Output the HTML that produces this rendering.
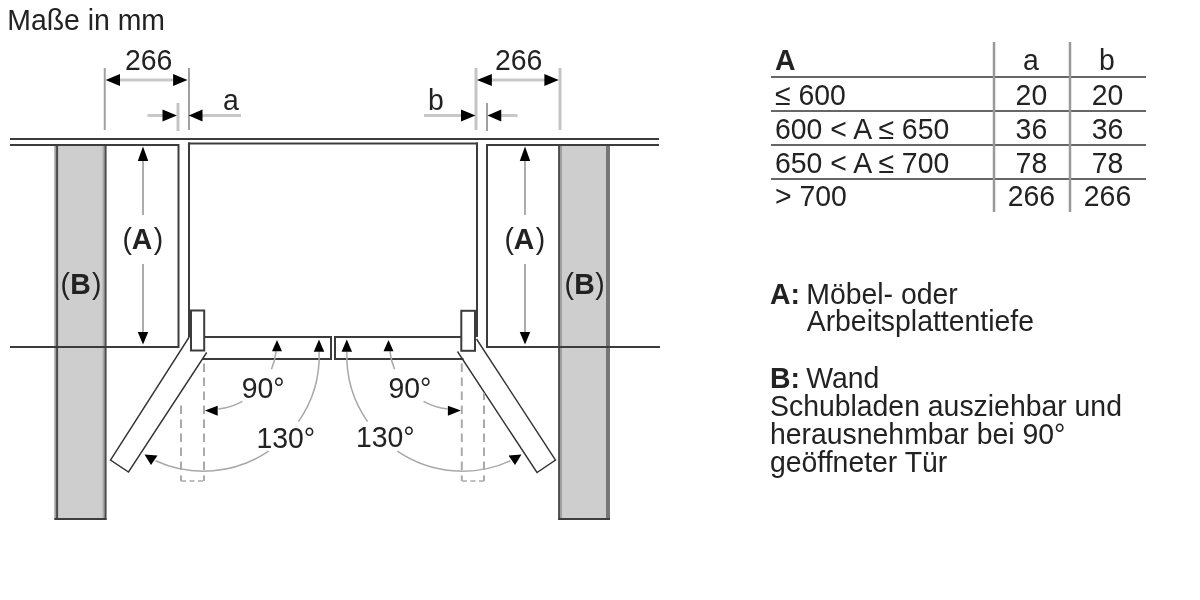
<!DOCTYPE html>
<html><head><meta charset="utf-8"><style>
html,body{margin:0;padding:0;background:#fff;width:1200px;height:600px;overflow:hidden}
svg{display:block;will-change:transform;filter:blur(0.4px)}
text{font-family:"Liberation Sans",sans-serif;font-size:28.4px;fill:#222}
</style></head><body>
<svg width="1200" height="600" viewBox="0 0 1200 600">
<line x1="10" y1="139" x2="659" y2="139" stroke="#3c3c3c" stroke-width="2" />
<line x1="10" y1="145" x2="179" y2="145" stroke="#3c3c3c" stroke-width="2" />
<line x1="487" y1="145" x2="659" y2="145" stroke="#3c3c3c" stroke-width="2" />
<line x1="10" y1="347" x2="179" y2="347" stroke="#3c3c3c" stroke-width="2" />
<line x1="487" y1="347" x2="660" y2="347" stroke="#3c3c3c" stroke-width="2" />
<line x1="178.5" y1="144" x2="178.5" y2="348" stroke="#3c3c3c" stroke-width="2" />
<line x1="487" y1="144" x2="487" y2="348" stroke="#3c3c3c" stroke-width="2" />
<rect x="54.4" y="145" width="52.1" height="375" fill="#cecece"/>
<line x1="55.3" y1="145" x2="55.3" y2="520" stroke="#a0a0a0" stroke-width="1.8" />
<line x1="57.1" y1="145" x2="57.1" y2="520" stroke="#4a4a4a" stroke-width="2" />
<line x1="103.5" y1="145" x2="103.5" y2="518" stroke="#a8a8a8" stroke-width="1.8" />
<line x1="105.5" y1="145" x2="105.5" y2="520" stroke="#4a4a4a" stroke-width="2" />
<line x1="54.4" y1="519" x2="106.5" y2="519" stroke="#3e3e3e" stroke-width="2" />
<rect x="558.2" y="145" width="51.8" height="375" fill="#cecece"/>
<line x1="559.1" y1="145" x2="559.1" y2="520" stroke="#4e4e4e" stroke-width="2" />
<line x1="561" y1="145" x2="561" y2="518" stroke="#a0a0a0" stroke-width="2" />
<line x1="608" y1="145" x2="608" y2="520" stroke="#777777" stroke-width="4" />
<line x1="558.2" y1="519" x2="610" y2="519" stroke="#3e3e3e" stroke-width="2" />
<line x1="10" y1="347" x2="179" y2="347" stroke="#3c3c3c" stroke-width="2" />
<line x1="487" y1="347" x2="660" y2="347" stroke="#3c3c3c" stroke-width="2" />
<line x1="10" y1="145" x2="179" y2="145" stroke="#3c3c3c" stroke-width="2" />
<line x1="487" y1="145" x2="659" y2="145" stroke="#3c3c3c" stroke-width="2" />
<line x1="188" y1="143.5" x2="478" y2="143.5" stroke="#3c3c3c" stroke-width="2" />
<line x1="189" y1="142.5" x2="189" y2="337" stroke="#3c3c3c" stroke-width="2" />
<line x1="477" y1="142.5" x2="477" y2="337" stroke="#3c3c3c" stroke-width="2" />
<line x1="204" y1="337" x2="331" y2="337" stroke="#3c3c3c" stroke-width="2" />
<line x1="202.5" y1="359" x2="331" y2="359" stroke="#3c3c3c" stroke-width="2" />
<line x1="331" y1="336" x2="331" y2="360" stroke="#3c3c3c" stroke-width="2" />
<line x1="335" y1="337" x2="462" y2="337" stroke="#3c3c3c" stroke-width="2" />
<line x1="335" y1="359" x2="463.5" y2="359" stroke="#3c3c3c" stroke-width="2" />
<line x1="335" y1="336" x2="335" y2="360" stroke="#3c3c3c" stroke-width="2" />
<rect x="191" y="310.5" width="13.2" height="40" fill="#fff" stroke="#3c3c3c" stroke-width="2"/>
<rect x="461.3" y="310.8" width="13.7" height="40" fill="#fff" stroke="#3c3c3c" stroke-width="2"/>
<polyline points="189.2,337 110.5,460 128.5,472 206.7,352.5" fill="none" stroke="#333" stroke-width="1.4"/>
<polyline points="476.5,339 555.5,460 537,472.5 457.5,351.5" fill="none" stroke="#333" stroke-width="1.4"/>
<line x1="181" y1="403" x2="181" y2="481" stroke="#aaaaaa" stroke-width="2" stroke-dasharray="8.5,5.5" stroke-dashoffset="11.5"/>
<line x1="204" y1="361" x2="204" y2="481" stroke="#aaaaaa" stroke-width="2" stroke-dasharray="8.5,5.5" stroke-dashoffset="11.5"/>
<line x1="181" y1="481" x2="204" y2="481" stroke="#aaaaaa" stroke-width="1.5" stroke-dasharray="5,3.5"/>
<line x1="484" y1="393" x2="484" y2="481" stroke="#aaaaaa" stroke-width="2" stroke-dasharray="8.5,5.5" stroke-dashoffset="1.5"/>
<line x1="461.8" y1="361" x2="461.8" y2="481" stroke="#aaaaaa" stroke-width="2" stroke-dasharray="8.5,5.5" stroke-dashoffset="11.5"/>
<line x1="462" y1="481" x2="484" y2="481" stroke="#aaaaaa" stroke-width="1.5" stroke-dasharray="5,3.5"/>
<line x1="104.75" y1="68" x2="104.75" y2="130" stroke="#a0a0a0" stroke-width="2" />
<line x1="189" y1="68" x2="189" y2="130" stroke="#a0a0a0" stroke-width="2" />
<line x1="178" y1="103" x2="178" y2="131" stroke="#c4c4c4" stroke-width="3" />
<line x1="476" y1="68" x2="476" y2="130" stroke="#c4c4c4" stroke-width="3" />
<line x1="560" y1="68" x2="560" y2="130" stroke="#c4c4c4" stroke-width="3" />
<line x1="487" y1="103" x2="487" y2="131" stroke="#a0a0a0" stroke-width="2" />
<line x1="118" y1="80" x2="175" y2="80" stroke="#c8c8c8" stroke-width="3" />
<line x1="490" y1="80" x2="546" y2="80" stroke="#c8c8c8" stroke-width="3" />
<polygon points="105.6,80 120,74.0 120,86.0" fill="#000"/>
<polygon points="187.5,80 173.1,74.0 173.1,86.0" fill="#000"/>
<polygon points="476.9,80 491.9,74.0 491.9,86.0" fill="#000"/>
<polygon points="558.75,80 544.4,74.0 544.4,86.0" fill="#000"/>
<line x1="147.5" y1="115.5" x2="164" y2="115.5" stroke="#c8c8c8" stroke-width="3" />
<line x1="201" y1="115.5" x2="241" y2="115.5" stroke="#c8c8c8" stroke-width="3" />
<polygon points="176.9,115.5 162.5,109.5 162.5,121.5" fill="#000"/>
<polygon points="188.75,115.5 202.5,109.5 202.5,121.5" fill="#000"/>
<line x1="424" y1="115.5" x2="462" y2="115.5" stroke="#c8c8c8" stroke-width="3" />
<line x1="500" y1="115.5" x2="517.5" y2="115.5" stroke="#c8c8c8" stroke-width="3" />
<polygon points="475.5,115.5 461,109.5 461,121.5" fill="#000"/>
<polygon points="487.5,115.5 501.25,109.5 501.25,121.5" fill="#000"/>
<line x1="143" y1="158" x2="143" y2="215" stroke="#999" stroke-width="1.6" />
<line x1="143" y1="264" x2="143" y2="334" stroke="#999" stroke-width="1.6" />
<polygon points="143,146.5 137.75,161 148.25,161" fill="#000"/>
<polygon points="143,344.5 137.75,332 148.25,332" fill="#000"/>
<line x1="525" y1="158" x2="525" y2="215" stroke="#999" stroke-width="1.6" />
<line x1="525" y1="264" x2="525" y2="334" stroke="#999" stroke-width="1.6" />
<polygon points="525,146.5 519.75,161 530.25,161" fill="#000"/>
<polygon points="525,344.5 519.75,332 530.25,332" fill="#000"/>
<path d="M319.13,351.46 A115.7,115.7 0 0 1 298.45,421.61" fill="none" stroke="#a8a8a8" stroke-width="1.5"/>
<path d="M268.62,451.14 A115.7,115.7 0 0 1 155.52,460.78" fill="none" stroke="#a8a8a8" stroke-width="1.5"/>
<polygon points="319,339.6 313.75,351.7 324.25,351.7" fill="#000"/>
<polygon points="144.5,454.5 157.5,455.5 151,465" fill="#000"/>
<path d="M346.87,351.46 A115.7,115.7 0 0 0 367.55,421.61" fill="none" stroke="#a8a8a8" stroke-width="1.5"/>
<path d="M397.38,451.14 A115.7,115.7 0 0 0 510.48,460.78" fill="none" stroke="#a8a8a8" stroke-width="1.5"/>
<polygon points="346.8,339.6 341.55,351.7 352.05,351.7" fill="#000"/>
<polygon points="521.5,454.5 508.5,455.5 515,465" fill="#000"/>
<path d="M276.10,351.19 A65.5,65.5 0 0 1 271.43,369.28" fill="none" stroke="#a8a8a8" stroke-width="1.5"/>
<path d="M242.45,401.45 A65.5,65.5 0 0 1 218.41,409.08" fill="none" stroke="#a8a8a8" stroke-width="1.5"/>
<polygon points="277,340 272.0,351.3 282.0,351.3" fill="#000"/>
<polygon points="204.9,410.6 217.7,405.8 217.7,415.7" fill="#000"/>
<path d="M389.90,351.19 A65.5,65.5 0 0 0 394.57,369.28" fill="none" stroke="#a8a8a8" stroke-width="1.5"/>
<path d="M423.55,401.45 A65.5,65.5 0 0 0 447.59,409.08" fill="none" stroke="#a8a8a8" stroke-width="1.5"/>
<polygon points="388.5,340 383.5,351.3 393.5,351.3" fill="#000"/>
<polygon points="460.9,410.6 447.9,405.8 447.9,415.7" fill="#000"/>
<text transform="translate(7.3,29.7) scale(1,1.06)" text-anchor="start" >Maße in mm</text>
<text transform="translate(125,69.6) scale(1,1.06)" text-anchor="start" >266</text>
<text transform="translate(495,69.6) scale(1,1.06)" text-anchor="start" >266</text>
<text transform="translate(223,109.8) scale(1,1.06)" text-anchor="start" >a</text>
<text transform="translate(428,109.6) scale(1,1.06)" text-anchor="start" >b</text>
<text transform="translate(122.4,248.6) scale(1,1.06)" text-anchor="start" >(<tspan font-weight="bold">A</tspan><tspan dx="1.5">)</tspan></text>
<text transform="translate(504.4,248.6) scale(1,1.06)" text-anchor="start" >(<tspan font-weight="bold">A</tspan><tspan dx="1.5">)</tspan></text>
<text transform="translate(60.4,293.8) scale(1,1.06)" text-anchor="start" >(<tspan dx="0.5" font-weight="bold">B</tspan><tspan dx="1.2">)</tspan></text>
<text transform="translate(564.4,293.5) scale(1,1.06)" text-anchor="start" >(<tspan dx="0.5" font-weight="bold">B</tspan><tspan dx="0.4">)</tspan></text>
<text transform="translate(241.7,398.2) scale(1,1.06)" text-anchor="start" >90°</text>
<text transform="translate(388.5,398.2) scale(1,1.06)" text-anchor="start" >90°</text>
<text transform="translate(256.5,447.5) scale(1,1.06)" text-anchor="start" >130°</text>
<text transform="translate(356,447.3) scale(1,1.06)" text-anchor="start" >130°</text>
<line x1="771" y1="77" x2="1146" y2="77" stroke="#666" stroke-width="2" />
<line x1="771" y1="111" x2="1146" y2="111" stroke="#666" stroke-width="2" />
<line x1="771" y1="145" x2="1146" y2="145" stroke="#666" stroke-width="2" />
<line x1="771" y1="179" x2="1146" y2="179" stroke="#666" stroke-width="2" />
<line x1="994" y1="42" x2="994" y2="212" stroke="#999" stroke-width="2.5" />
<line x1="1070" y1="42" x2="1070" y2="212" stroke="#999" stroke-width="2.5" />
<text transform="translate(775,70) scale(1,1.06)" text-anchor="start" font-weight="bold">A</text>
<text transform="translate(1031,70.25) scale(1,1.06)" text-anchor="middle" >a</text>
<text transform="translate(1107,70.25) scale(1,1.06)" text-anchor="middle" >b</text>
<text transform="translate(775,104.5) scale(1,1.06)" text-anchor="start" >≤ 600</text>
<text transform="translate(1031.4,104.5) scale(1,1.06)" text-anchor="middle" >20</text>
<text transform="translate(1107.5,104.5) scale(1,1.06)" text-anchor="middle" >20</text>
<text transform="translate(775,138.5) scale(1,1.06)" text-anchor="start" >600 &lt; A ≤ 650</text>
<text transform="translate(1031.4,138.5) scale(1,1.06)" text-anchor="middle" >36</text>
<text transform="translate(1107.5,138.5) scale(1,1.06)" text-anchor="middle" >36</text>
<text transform="translate(775,172.5) scale(1,1.06)" text-anchor="start" >650 &lt; A ≤ 700</text>
<text transform="translate(1031.4,172.5) scale(1,1.06)" text-anchor="middle" >78</text>
<text transform="translate(1107.5,172.5) scale(1,1.06)" text-anchor="middle" >78</text>
<text transform="translate(775,206) scale(1,1.06)" text-anchor="start" >&gt; 700</text>
<text transform="translate(1031.4,206) scale(1,1.06)" text-anchor="middle" >266</text>
<text transform="translate(1107.5,206) scale(1,1.06)" text-anchor="middle" >266</text>
<text transform="translate(770,303.8) scale(1,1.06)" text-anchor="start" ><tspan font-weight="bold">A:</tspan></text>
<text transform="translate(806.3,303.8) scale(1,1.06)" text-anchor="start" >Möbel- oder</text>
<text transform="translate(806.7,331.2) scale(1,1.06)" text-anchor="start" >Arbeitsplattentiefe</text>
<text transform="translate(770,387.8) scale(1,1.06)" text-anchor="start" ><tspan font-weight="bold">B:</tspan></text>
<text transform="translate(806.3,387.8) scale(1,1.06)" text-anchor="start" >Wand</text>
<text transform="translate(770,416) scale(1,1.06)" text-anchor="start" >Schubladen ausziehbar und</text>
<text transform="translate(770,444.4) scale(1,1.06)" text-anchor="start" >herausnehmbar bei 90°</text>
<text transform="translate(770,471.9) scale(1,1.06)" text-anchor="start" >geöffneter Tür</text>
</svg>
</body></html>
